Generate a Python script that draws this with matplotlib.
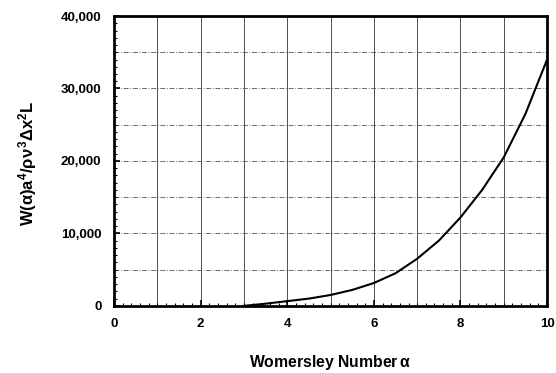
import matplotlib
matplotlib.use("Agg")
import matplotlib.pyplot as plt
from matplotlib.ticker import MultipleLocator, FuncFormatter
import numpy as np

alpha = [3.0, 3.5, 4.0, 4.5, 5.0, 5.5, 6.0, 6.5, 7.0, 7.5, 8.0, 8.5, 9.0, 9.5, 10.0]
W = [0, 300, 650, 1000, 1500, 2200, 3150, 4500, 6500, 9000, 12200, 16000, 20500, 26500, 34000]

plt.rcParams['font.family'] = ['Liberation Sans', 'DejaVu Sans']
plt.rcParams['mathtext.fontset'] = 'custom'
plt.rcParams['mathtext.rm'] = 'Liberation Sans:bold'
plt.rcParams['mathtext.it'] = 'Liberation Sans:bold'
plt.rcParams['mathtext.bf'] = 'Liberation Sans:bold'

fig = plt.figure(figsize=(5.56, 3.73), dpi=100)
ax = fig.add_axes([0.205, 0.180, 0.779, 0.777])

ax.plot(alpha, W, color='black', lw=1.5, solid_joinstyle='round')
ax.set_xlim(0, 10)
ax.set_ylim(0, 40000)

ax.xaxis.set_major_locator(MultipleLocator(2))
ax.xaxis.set_minor_locator(MultipleLocator(0.2))
ax.yaxis.set_major_locator(MultipleLocator(10000))
ax.yaxis.set_minor_locator(MultipleLocator(1000))
ax.yaxis.set_major_formatter(FuncFormatter(lambda v, p: f"{int(v):,}"))

for xv in range(1, 10):
    ax.axvline(xv, color='#333333', lw=0.6, zorder=0)
for yv in range(5000, 40000, 5000):
    ax.axhline(yv, color='#555555', lw=0.6, ls=(0, (6, 2, 1, 2)), zorder=0)

ax.tick_params(which='both', direction='in', top=False, right=False)
ax.tick_params(which='major', length=4, width=1.2, labelsize=9.5)
ax.tick_params(axis='x', which='major', pad=9)
ax.tick_params(axis='y', which='major', pad=9)
ax.tick_params(which='minor', length=2.5, width=0.8)
for lab in ax.get_xticklabels() + ax.get_yticklabels():
    lab.set_fontweight('bold')
for s in ax.spines.values():
    s.set_linewidth(2)

fig.text(0.594, 0.028, r'Womersley Number$\,\alpha$', ha='center', va='center',
         fontsize=11.3, fontweight='bold')
fig.text(0.05, 0.563, r'W($\alpha$)a$^4$/$\rho\nu^3\Delta$x$^2$L', ha='center', va='center',
         rotation=90, fontsize=12, fontweight='bold')

fig.savefig('out.png', dpi=100)
